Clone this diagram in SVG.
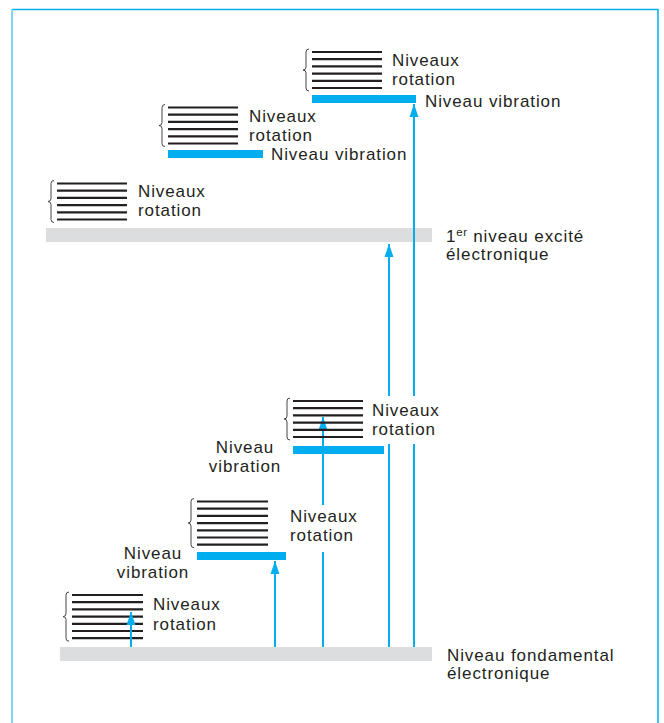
<svg xmlns="http://www.w3.org/2000/svg" width="664" height="723" viewBox="0 0 664 723">
<style>
.t{font-family:"Liberation Sans",Arial,sans-serif;font-size:17px;letter-spacing:0.9px;fill:#231f20}
.r{stroke:#231f20;stroke-width:2.2}
.br{fill:none;stroke:#444;stroke-width:1}
.vib{fill:#00aeef}
.el{fill:#dcddde}
.ar{stroke:#00aeef;stroke-width:2;fill:none}
.ko{fill:#fff}
</style>
<defs>
<marker id="ah" markerUnits="userSpaceOnUse" markerWidth="14" markerHeight="10" refX="13" refY="5" orient="auto" viewBox="0 0 14 10">
<path d="M0,0.5 L13,5 L0,9.5 z" fill="#00aeef"/>
</marker>
<g id="rot6">
<line class="r" x1="0" y1="0" x2="70" y2="0"/>
<line class="r" x1="0" y1="7.2" x2="70" y2="7.2"/>
<line class="r" x1="0" y1="14.4" x2="70" y2="14.4"/>
<line class="r" x1="0" y1="21.6" x2="70" y2="21.6"/>
<line class="r" x1="0" y1="28.8" x2="70" y2="28.8"/>
<line class="r" x1="0" y1="36" x2="70" y2="36"/>
<path class="br" d="M-3,-3 q-3,0 -3,3 v15 q0,3 -3,3 q3,0 3,3 v15 q0,3 3,3"/>
</g>
<g id="rot7">
<line class="r" x1="0" y1="0" x2="71" y2="0"/>
<line class="r" x1="0" y1="7.2" x2="71" y2="7.2"/>
<line class="r" x1="0" y1="14.4" x2="71" y2="14.4"/>
<line class="r" x1="0" y1="21.6" x2="71" y2="21.6"/>
<line class="r" x1="0" y1="28.8" x2="71" y2="28.8"/>
<line class="r" x1="0" y1="36" x2="71" y2="36"/>
<line class="r" x1="0" y1="43.2" x2="71" y2="43.2"/>
<path class="br" d="M-3,-3 q-3,0 -3,3 v18.6 q0,3 -3,3 q3,0 3,3 v18.6 q0,3 3,3"/>
</g>
</defs>
<rect width="664" height="723" fill="#fff"/>
<g id="frame">
<line x1="12" y1="9.5" x2="658.5" y2="9.5" stroke="#00aeef" stroke-width="1.5"/>
<line x1="658" y1="9.5" x2="658" y2="723" stroke="#00aeef" stroke-width="1.5"/>
<line x1="12" y1="9.5" x2="12" y2="723" stroke="#80d4f6" stroke-width="2"/>
</g>
<g id="excited-level">
<rect class="el" x="46" y="228" width="386" height="14"/>
<text class="t" x="446" y="242">1<tspan font-size="11.5" dy="-6" letter-spacing="0.5">er</tspan><tspan dy="6"> niveau excité</tspan></text>
<text class="t" x="446" y="260">électronique</text>
</g>
<g id="ground-level">
<rect class="el" x="60" y="647" width="372" height="14"/>
<text class="t" x="447" y="661">Niveau fondamental</text>
<text class="t" x="447" y="679">électronique</text>
</g>
<g id="top-vib">
<use href="#rot6" x="312" y="52"/>
<text class="t" x="392" y="66">Niveaux</text>
<text class="t" x="392" y="85">rotation</text>
<rect class="vib" x="312" y="95" width="104" height="8"/>
<text class="t" x="425" y="107">Niveau vibration</text>
</g>
<g id="mid-vib">
<use href="#rot6" x="168" y="107.5"/>
<text class="t" x="249" y="122">Niveaux</text>
<text class="t" x="249" y="141">rotation</text>
<rect class="vib" x="168" y="150" width="95" height="8"/>
<text class="t" x="271" y="160">Niveau vibration</text>
</g>
<g id="excited-rot">
<use href="#rot6" x="57" y="183.5"/>
<text class="t" x="138" y="197">Niveaux</text>
<text class="t" x="138" y="216">rotation</text>
</g>
<g id="ground-rot">
<use href="#rot7" x="72" y="595"/>
<text class="t" x="153" y="610">Niveaux</text>
<text class="t" x="153" y="630">rotation</text>
</g>
<g id="connectors">
<line class="ar" x1="131" y1="647" x2="131" y2="612" marker-end="url(#ah)"/>
<line class="ar" x1="275" y1="647" x2="275" y2="561" marker-end="url(#ah)"/>
<line class="ar" x1="323" y1="647" x2="323" y2="417" marker-end="url(#ah)"/>
<line class="ar" x1="389" y1="647" x2="389" y2="244" marker-end="url(#ah)"/>
<line class="ar" x1="414" y1="647" x2="414" y2="104" marker-end="url(#ah)"/>
</g>
<g id="ground-vib2">
<use href="#rot6" x="293" y="401"/>
<rect class="ko" x="367" y="396" width="74" height="48"/>
<text class="t" x="372" y="416">Niveaux</text>
<text class="t" x="372" y="435">rotation</text>
<rect class="vib" x="293" y="446" width="91" height="8"/>
<text class="t" x="245" y="453" text-anchor="middle">Niveau</text>
<text class="t" x="245" y="472" text-anchor="middle">vibration</text>
</g>
<g id="ground-vib1">
<use href="#rot7" x="197" y="501.5"/>
<rect class="ko" x="285" y="505" width="74" height="47"/>
<text class="t" x="290" y="522">Niveaux</text>
<text class="t" x="290" y="541">rotation</text>
<rect class="vib" x="197" y="552" width="89" height="8"/>
<text class="t" x="153" y="559" text-anchor="middle">Niveau</text>
<text class="t" x="153" y="578" text-anchor="middle">vibration</text>
</g>
</svg>
